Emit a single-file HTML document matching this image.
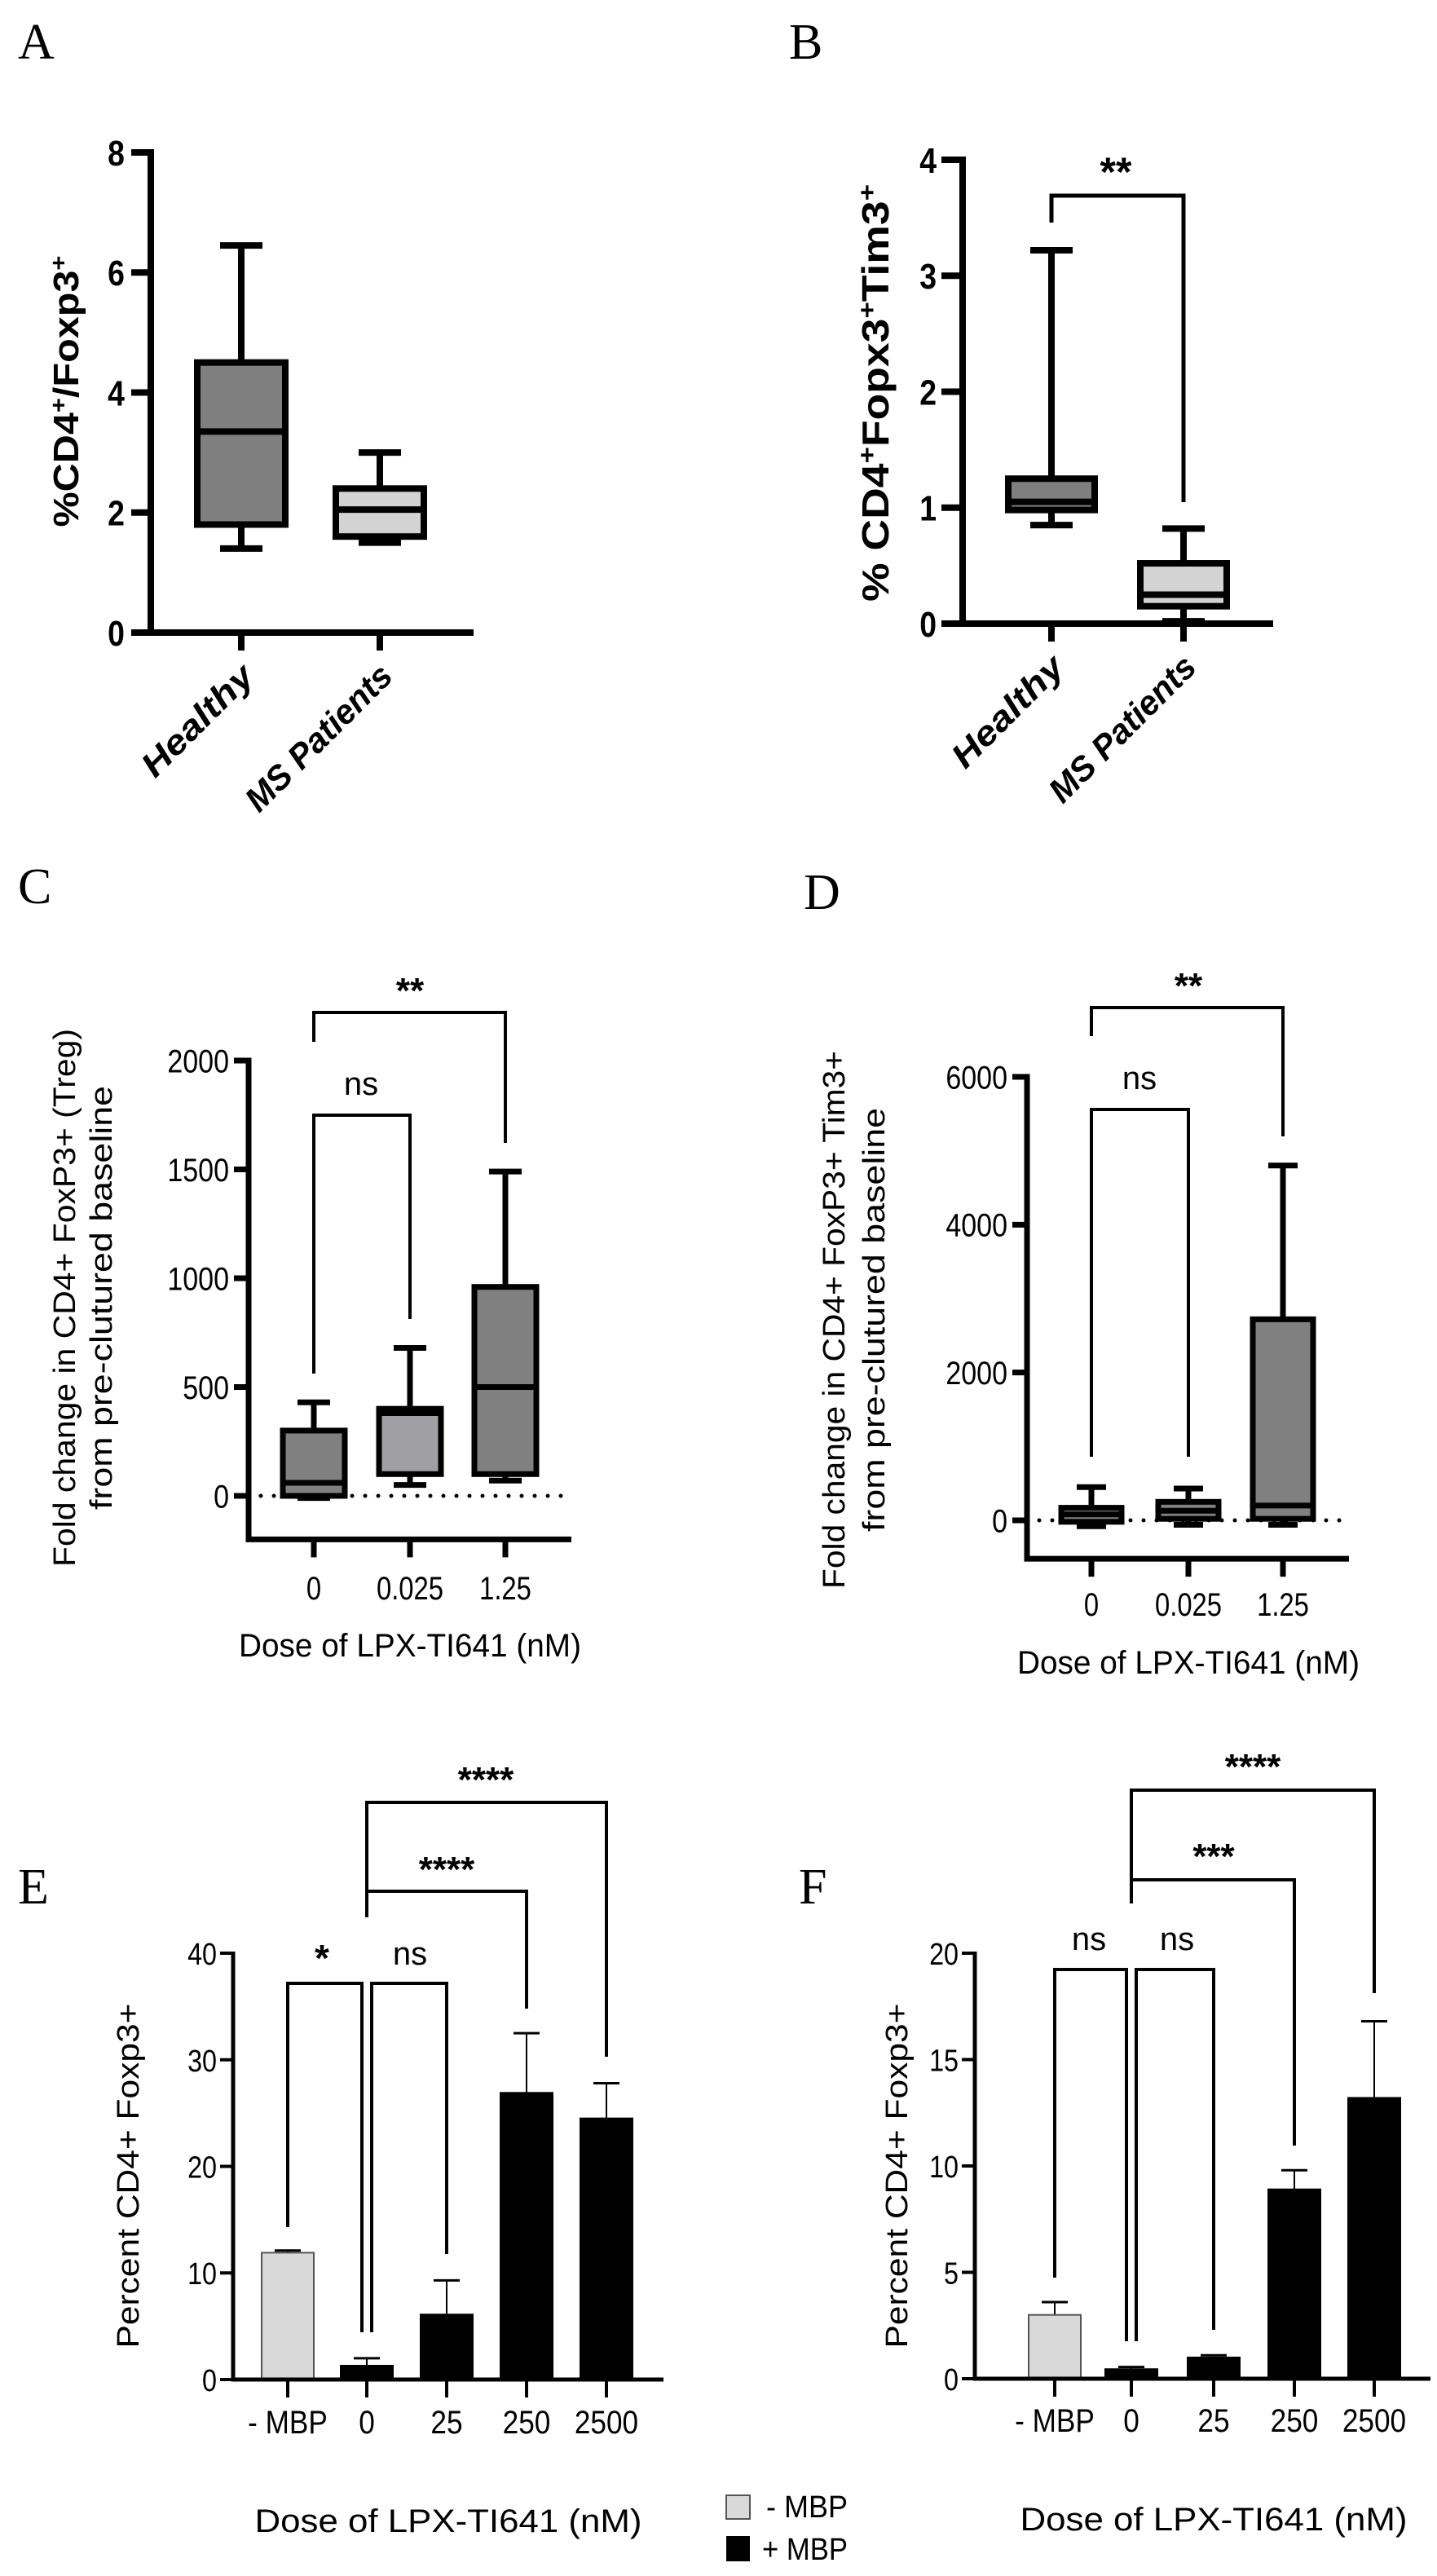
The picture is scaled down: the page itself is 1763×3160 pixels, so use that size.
<!DOCTYPE html>
<html><head><meta charset="utf-8"><style>
html,body{margin:0;padding:0;background:#fff;}
svg{display:block;}
</style></head><body>
<svg id="fig" width="1763" height="3160" viewBox="0 0 1763 3160" xmlns="http://www.w3.org/2000/svg" font-family="Liberation Sans, sans-serif">
<g font-family="Liberation Serif, serif" font-size="62" fill="#000">
<text x="22" y="72">A</text>
<text x="968" y="72">B</text>
<text x="22" y="1108">C</text>
<text x="986" y="1115">D</text>
<text x="22" y="2335">E</text>
<text x="980" y="2335">F</text>
</g>
<g font-size="38">
<rect x="891" y="3061" width="29" height="29" fill="#d9d9d9" stroke="#555" stroke-width="2"/>
<text x="940" y="3088" textLength="100" lengthAdjust="spacingAndGlyphs">-  MBP</text>
<rect x="891" y="3111" width="29" height="31" fill="#000"/>
<text x="935" y="3140" textLength="105" lengthAdjust="spacingAndGlyphs">+ MBP</text>
</g>
</svg>
<script>
// ---- Panel A data ----
const aCategories = ["Healthy", "MS Patients"];
const aMin = [1.4, 1.5];
const aQ1 = [1.8, 1.6];
const aMedian = [3.35, 2.05];
const aQ3 = [4.5, 2.4];
const aMax = [6.45, 3.0];
const aTicks = [0, 2, 4, 6, 8];
// ---- Panel B data ----
const bCategories = ["Healthy", "MS Patients"];
const bMin = [0.85, 0.02];
const bQ1 = [0.98, 0.15];
const bMedian = [1.05, 0.25];
const bQ3 = [1.25, 0.52];
const bMax = [3.22, 0.82];
const bTicks = [0, 1, 2, 3, 4];
// ---- Panel C data ----
const cCategories = ["0", "0.025", "1.25"];
const cMin = [-10, 50, 70];
const cQ1 = [0, 100, 100];
const cMedian = [60, 380, 500];
const cQ3 = [300, 400, 960];
const cMax = [430, 680, 1490];
const cTicks = [0, 500, 1000, 1500, 2000];
// ---- Panel D data ----
const dCategories = ["0", "0.025", "1.25"];
const dMin = [-80, -60, -60];
const dQ1 = [-20, 20, 20];
const dMedian = [80, 130, 200];
const dQ3 = [170, 250, 2720];
const dMax = [450, 430, 4800];
const dTicks = [0, 2000, 4000, 6000];
// ---- Panel E data ----
const eCategories = ["- MBP", "0", "25", "250", "2500"];
const eValues = [11.9, 1.3, 6.1, 26.9, 24.5];
const eErrors = [0.2, 0.7, 3.2, 5.6, 3.3];
const eTicks = [0, 10, 20, 30, 40];
// ---- Panel F data ----
const fCategories = ["- MBP", "0", "25", "250", "2500"];
const fValues = [3.0, 0.45, 1.0, 8.9, 13.2];
const fErrors = [0.6, 0.1, 0.1, 0.9, 3.6];
const fTicks = [0, 5, 10, 15, 20];

const NS = "http://www.w3.org/2000/svg";
const svg = document.getElementById('fig');
function mk(tag, attrs, parent) {
  const e = document.createElementNS(NS, tag);
  for (const k in attrs) e.setAttribute(k, attrs[k]);
  (parent || svg).appendChild(e);
  return e;
}
function lin(d0, d1, r0, r1) { return v => r0 + (v - d0) * (r1 - r0) / (d1 - d0); }

function boxPanel(o) {
  const g = mk('g', {});
  
  
  const y = lin(o.d0, o.d1, o.y0, o.y1);
  const x = i => o.cx[i];
  const sw = o.sw;
  const tl = o.tickLen || 18, to = o.tickOff || 24;
  const ya = mk('line', {x1: o.ax, y1: y(o.ymin), x2: o.ax, y2: y(o.d1) - sw/2, stroke: '#000', 'stroke-width': sw}, g);
  
  
  const xa = mk('line', {x1: o.ax - sw/2, y1: y(o.ymin), x2: o.axEnd, y2: y(o.ymin), stroke: '#000', 'stroke-width': sw}, g);
  
  
  o.ticks.forEach(t => {
    mk('line', {x1: o.ax - tl, y1: y(t), x2: o.ax, y2: y(t), stroke: '#000', 'stroke-width': sw}, g);
    const tx = mk('text', {x: o.ax - to, y: y(t) + o.tfs*0.36, 'text-anchor': 'end', 'font-size': o.tfs, 'font-weight': o.bold ? 'bold' : 'normal', transform: `translate(${o.ax-to},0) scale(0.85,1) translate(${-(o.ax-to)},0)`}, g);
    tx.textContent = t;
    
    
  });
  if (o.dotted) {
    const dl = mk('line', {x1: o.ax + 15, y1: y(0), x2: o.axEnd - 5, y2: y(0), stroke: '#000', 'stroke-width': 5, 'stroke-dasharray': '0 16', 'stroke-linecap': 'round'}, g);
    
    
  }
  o.cats.forEach((c, i) => {
    mk('line', {x1: x(i), y1: y(o.ymin), x2: x(i), y2: y(o.ymin) + 22, stroke: '#000', 'stroke-width': sw}, g);
    const hw = o.hw, cw = o.cw;
    const wk = mk('line', {x1: x(i), y1: y(o.mn[i]), x2: x(i), y2: y(o.mx[i]), stroke: '#000', 'stroke-width': sw}, g);
    
    
    [o.mn[i], o.mx[i]].forEach(v => mk('line', {x1: x(i) - cw, y1: y(v), x2: x(i) + cw, y2: y(v), stroke: '#000', 'stroke-width': sw}, g));
    const bx = mk('rect', {x: x(i) - hw, y: y(o.q3[i]), width: 2*hw, height: Math.max(1, y(o.q1[i]) - y(o.q3[i])), fill: o.fills[i], stroke: '#000', 'stroke-width': sw}, g);
    
    
    const md = mk('line', {x1: x(i) - hw, y1: y(o.md[i]), x2: x(i) + hw, y2: y(o.md[i]), stroke: '#000', 'stroke-width': sw}, g);
    
    
    let lb;
    if (o.rotate) {
      lb = mk('text', {x: 0, y: 0, 'text-anchor': 'end', 'font-size': o.cfs, 'font-weight': 'bold', 'font-style': 'italic', textLength: o.clen[i], lengthAdjust: 'spacingAndGlyphs', transform: `translate(${x(i) + 18},${y(o.ymin) + 56}) rotate(-45)`}, g);
    } else {
      lb = mk('text', {x: x(i), y: o.catY, 'text-anchor': 'middle', 'font-size': o.cfs, transform: `translate(${x(i)},0) scale(0.82,1) translate(${-x(i)},0)`}, g);
    }
    lb.textContent = c;
    
    
  });
  return {g, y};
}

function bracket(g, x1, x2, yTop, yL, yR, label, lx, ly, fs, sw) {
  const p = mk('path', {d: `M${x1},${yL} V${yTop} H${x2} V${yR}`, fill: 'none', stroke: '#000', 'stroke-width': sw}, g);
  
  
  const t = mk('text', {x: lx, y: ly, 'text-anchor': 'middle', 'font-size': fs, 'font-weight': label === 'ns' ? 'normal' : 'bold'}, g);
  t.textContent = label;
  
  
}
function vtext(g, name, txt, cx, cy, fs, len, bold) {
  const t = mk('text', {x: 0, y: 0, 'text-anchor': 'middle', 'font-size': fs, 'font-weight': bold ? 'bold' : 'normal', transform: `translate(${cx},${cy}) rotate(-90)`, textLength: len, lengthAdjust: 'spacingAndGlyphs'}, g);
  t.innerHTML = txt;
  
  
  return t;
}
function htext(g, name, txt, cx, cy, fs, len) {
  const t = mk('text', {x: cx, y: cy, 'text-anchor': 'middle', 'font-size': fs, textLength: len, lengthAdjust: 'spacingAndGlyphs'}, g);
  t.textContent = txt;
  
  
}

// Panel A
{
  const r = boxPanel({name: 'panel-a-boxplot', d0: 0, d1: 8, y0: 776, y1: 187, ymin: 0, ax: 185, axEnd: 581, cx: [296, 466], hw: 54, cw: 26, sw: 8, tickLen: 24, tickOff: 32, ticks: aTicks, tfs: 44, bold: true, cats: aCategories, mn: aMin, q1: aQ1, md: aMedian, q3: aQ3, mx: aMax, fills: ['#7f7f7f', '#d3d3d3'], rotate: true, cfs: 42, clen: [175, 235]});
  vtext(r.g, 'y-axis-title', '%CD4<tspan baseline-shift="super" font-size="28">+</tspan>/Foxp3<tspan baseline-shift="super" font-size="28">+</tspan>', 96, 480, 44, 333, true);
}
// Panel B
{
  const r = boxPanel({name: 'panel-b-boxplot', d0: 0, d1: 4, y0: 765, y1: 196, ymin: 0, ax: 1181, axEnd: 1562, cx: [1290, 1452], hw: 53, cw: 26, sw: 8, tickLen: 26, tickOff: 32, ticks: bTicks, tfs: 44, bold: true, cats: bCategories, mn: bMin, q1: bQ1, md: bMedian, q3: bQ3, mx: bMax, fills: ['#7f7f7f', '#d3d3d3'], rotate: true, cfs: 42, clen: [175, 235]});
  bracket(r.g, 1290, 1452, 240, 273, 616, '**', 1369, 228, 50, 5);
  vtext(r.g, 'y-axis-title', '% CD4<tspan baseline-shift="super" font-size="30">+</tspan>Fopx3<tspan baseline-shift="super" font-size="30">+</tspan>Tim3<tspan baseline-shift="super" font-size="30">+</tspan>', 1090, 482, 46, 512, true);
}
// Panel C
{
  const r = boxPanel({name: 'panel-c-boxplot', d0: 0, d1: 2000, y0: 1835, y1: 1301, ymin: -200, ax: 305, axEnd: 701, cx: [385, 503, 620], hw: 38, cw: 20, sw: 7, ticks: cTicks, tfs: 40, bold: false, cats: cCategories, mn: cMin, q1: cQ1, md: cMedian, q3: cQ3, mx: cMax, fills: ['#808080', '#a0a0a4', '#808080'], rotate: false, cfs: 40, catY: 1962, dotted: true});
  bracket(r.g, 385, 503, 1368, 1685, 1618, 'ns', 443, 1343, 40, 4);
  bracket(r.g, 385, 620, 1242, 1278, 1402, '**', 503, 1230, 44, 4);
  vtext(r.g, 'y-axis-title-line1', 'Fold change in CD4+ FoxP3+ (Treg)', 92, 1592, 38, 660, false);
  vtext(r.g, 'y-axis-title-line2', 'from pre-clutured baseline', 137, 1592, 38, 520, false);
  htext(r.g, 'x-axis-title', 'Dose of LPX-TI641 (nM)', 503, 2032, 40, 420);
}
// Panel D
{
  const r = boxPanel({name: 'panel-d-boxplot', d0: 0, d1: 6000, y0: 1865, y1: 1321, ymin: -520, ax: 1260, axEnd: 1655, cx: [1339, 1458, 1574], hw: 37, cw: 18, sw: 7, ticks: dTicks, tfs: 40, bold: false, cats: dCategories, mn: dMin, q1: dQ1, md: dMedian, q3: dQ3, mx: dMax, fills: ['#808080', '#808080', '#808080'], rotate: false, cfs: 40, catY: 1982, dotted: true});
  bracket(r.g, 1339, 1458, 1361, 1787, 1787, 'ns', 1398, 1336, 40, 4);
  bracket(r.g, 1339, 1574, 1236, 1271, 1394, '**', 1458, 1224, 44, 4);
  vtext(r.g, 'y-axis-title-line1', 'Fold change in CD4+ FoxP3+ Tim3+', 1036, 1619, 38, 660, false);
  vtext(r.g, 'y-axis-title-line2', 'from pre-clutured baseline', 1085, 1619, 38, 520, false);
  htext(r.g, 'x-axis-title', 'Dose of LPX-TI641 (nM)', 1458, 2053, 40, 420);
}

function barPanel(o) {
  const g = mk('g', {});
  
  
  const y = lin(0, o.d1, o.y0, o.y1);
  const sw = 5;
  o.ticks.forEach(t => {
    mk('line', {x1: o.ax - 16, y1: y(t), x2: o.ax, y2: y(t), stroke: '#000', 'stroke-width': 4}, g);
    const tx = mk('text', {x: o.ax - 20, y: y(t) + 14, 'text-anchor': 'end', 'font-size': 38, transform: `translate(${o.ax-20},0) scale(0.85,1) translate(${-(o.ax-20)},0)`}, g);
    tx.textContent = t;
    
    
  });
  o.cats.forEach((c, i) => {
    const cx = o.cx[i], v = o.vals[i], e = o.errs[i];
    const er = mk('line', {x1: cx, y1: y(v), x2: cx, y2: y(v + e), stroke: '#000', 'stroke-width': 2}, g);
    
    
    mk('line', {x1: cx - 16, y1: y(v + e), x2: cx + 16, y2: y(v + e), stroke: '#000', 'stroke-width': 3}, g);
    const b = mk('rect', {x: cx - 32, y: y(v), width: 64, height: y(0) - y(v), fill: i === 0 ? '#d9d9d9' : '#000', stroke: i === 0 ? '#555' : '#000', 'stroke-width': 2}, g);
    
    
    mk('line', {x1: cx, y1: y(0), x2: cx, y2: y(0) + 22, stroke: '#000', 'stroke-width': 4}, g);
    const lb = mk('text', {x: cx, y: o.catY, 'text-anchor': 'middle', 'font-size': 40, transform: `translate(${cx},0) scale(0.88,1) translate(${-cx},0)`}, g);
    lb.textContent = c;
    
    
  });
  const ya = mk('line', {x1: o.ax, y1: y(0), x2: o.ax, y2: y(o.d1) - 2, stroke: '#000', 'stroke-width': sw}, g);
  
  
  const xa = mk('line', {x1: o.ax - 2, y1: y(0), x2: o.axEnd, y2: y(0), stroke: '#000', 'stroke-width': sw}, g);
  
  
  return {g, y};
}
// Panel E
{
  const cx = [353, 450, 548, 646, 744];
  const r = barPanel({name: 'panel-e-barchart', d1: 40, y0: 2919, y1: 2396, ax: 286, axEnd: 814, cx, cats: eCategories, vals: eValues, errs: eErrors, ticks: eTicks, catY: 2985});
  bracket(r.g, cx[0], cx[1] - 6, 2433, 2732, 2861, '*', 395, 2418, 46, 4);
  bracket(r.g, cx[1] + 6, cx[2], 2433, 2861, 2765, 'ns', 503, 2410, 40, 4);
  bracket(r.g, cx[1], cx[3], 2320, 2352, 2464, '****', 548, 2308, 44, 4);
  bracket(r.g, cx[1], cx[4], 2211, 2320, 2523, '****', 596, 2198, 44, 4);
  vtext(r.g, 'y-axis-title', 'Percent CD4+ Foxp3+', 170, 2669, 38, 423, false);
  htext(r.g, 'x-axis-title', 'Dose of LPX-TI641 (nM)', 550, 3106, 40, 475);
}
// Panel F
{
  const cx = [1294, 1388, 1489, 1588, 1686];
  const r = barPanel({name: 'panel-f-barchart', d1: 20, y0: 2918, y1: 2396, ax: 1196, axEnd: 1755, cx, cats: fCategories, vals: fValues, errs: fErrors, ticks: fTicks, catY: 2983});
  bracket(r.g, cx[0], cx[1] - 6, 2416, 2794, 2872, 'ns', 1336, 2392, 40, 4);
  bracket(r.g, cx[1] + 6, cx[2], 2416, 2872, 2858, 'ns', 1444, 2392, 40, 4);
  bracket(r.g, cx[1], cx[3], 2306, 2335, 2632, '***', 1489, 2292, 44, 4);
  bracket(r.g, cx[1], cx[4], 2196, 2306, 2445, '****', 1537, 2182, 44, 4);
  vtext(r.g, 'y-axis-title', 'Percent CD4+ Foxp3+', 1113, 2669, 38, 423, false);
  htext(r.g, 'x-axis-title', 'Dose of LPX-TI641 (nM)', 1489, 3104, 40, 475);
}
</script>
</body></html>
